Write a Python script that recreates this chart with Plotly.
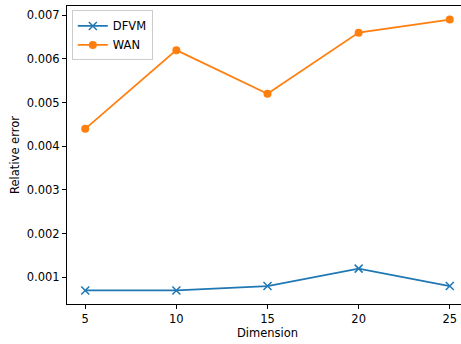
import plotly.graph_objects as go

dimensions = [5, 10, 15, 20, 25]
dfvm_error = [0.0007, 0.0007, 0.0008, 0.0012, 0.0008]
wan_error = [0.0044, 0.0062, 0.0052, 0.0066, 0.0069]
y_ticks = [0.001, 0.002, 0.003, 0.004, 0.005, 0.006, 0.007]
x_ticks = [5, 10, 15, 20, 25]

font = dict(family="DejaVu Sans", size=11.5, color="black")

fig = go.Figure()
fig.add_trace(go.Scatter(x=dimensions, y=dfvm_error, name="DFVM", mode="lines+markers",
                         line=dict(color="#1f77b4", width=1.7),
                         marker=dict(symbol="x-thin", size=8, color="#1f77b4",
                                     line=dict(color="#1f77b4", width=1.5))))
fig.add_trace(go.Scatter(x=dimensions, y=wan_error, name="WAN", mode="lines+markers",
                         line=dict(color="#ff7f0e", width=1.7),
                         marker=dict(symbol="circle", size=8, color="#ff7f0e")))

fig.update_layout(
    width=468, height=344,
    margin=dict(l=67, r=0, t=6, b=40),
    paper_bgcolor="white", plot_bgcolor="white",
    font=font,
    showlegend=True,
    legend=dict(x=0.012, y=0.985, xanchor="left", yanchor="top",
                bordercolor="#cccccc", borderwidth=1, bgcolor="rgba(255,255,255,0.8)",
                font=dict(family="DejaVu Sans", size=11.5), tracegroupgap=0,
                itemwidth=30),
    xaxis=dict(range=[4, 26], tickvals=x_ticks, ticks="outside", ticklen=4,
               tickwidth=1, tickcolor="black", showgrid=False, zeroline=False,
               showline=True, linecolor="black", linewidth=1, mirror=True,
               title=dict(text="Dimension", standoff=4, font=font)),
    yaxis=dict(range=[0.00039, 0.00721], tickvals=y_ticks, tickformat=".3f",
               ticks="outside", ticklen=4, tickwidth=1, tickcolor="black",
               showgrid=False, zeroline=False, showline=True, linecolor="black",
               linewidth=1, mirror=False,
               title=dict(text="Relative error", standoff=4, font=font)),
)
fig.write_html("out.html", config={"displayModeBar": False},
               post_script="document.body.style.margin='0';document.body.style.padding='0';"
                           "document.body.style.overflow='hidden';"
                           "document.documentElement.style.overflow='hidden';")
